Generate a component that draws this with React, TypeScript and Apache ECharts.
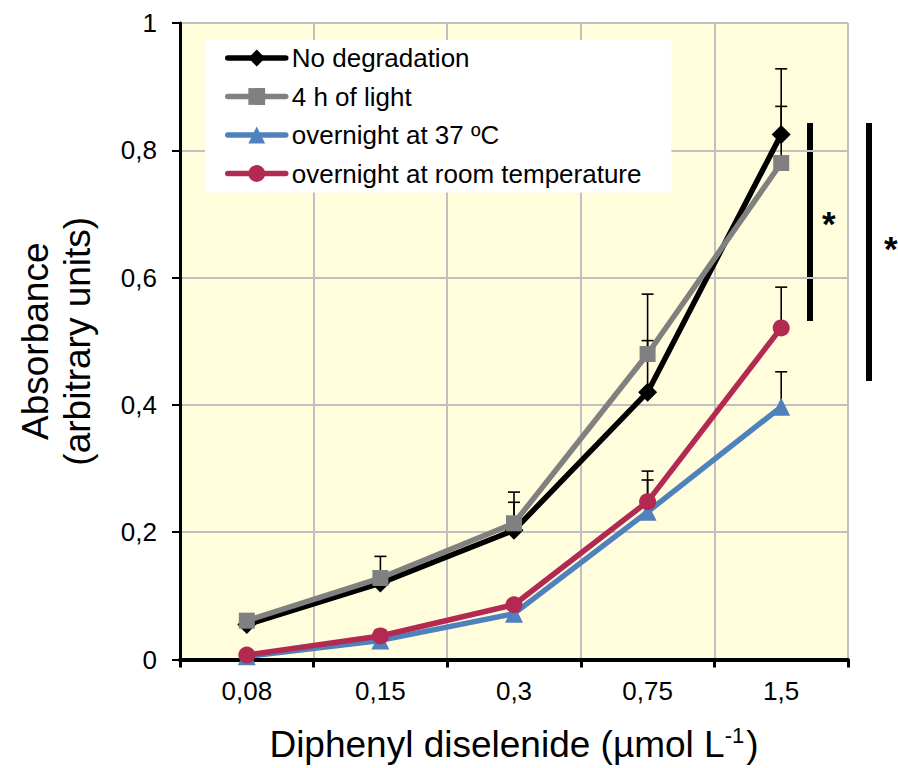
import React, { useEffect, useRef } from "react";
import * as echarts from "echarts";

const categories = ["0,08", "0,15", "0,3", "0,75", "1,5"];
const seriesNames = [
  "No degradation",
  "4 h of light",
  "overnight at 37 ºC",
  "overnight at room temperature",
];
const noDegradation = [0.055, 0.12, 0.203, 0.42, 0.825];
const noDegradationErr = [0.005, 0.012, 0.044, 0.081, 0.103];
const lightFourHours = [0.061, 0.128, 0.214, 0.48, 0.78];
const lightFourHoursErr = [0.005, 0.034, 0.049, 0.094, 0.089];
const overnight37 = [0.005, 0.03, 0.072, 0.232, 0.397];
const overnight37Err = [0.003, 0.008, 0.008, 0.05, 0.055];
const overnightRoom = [0.007, 0.037, 0.086, 0.248, 0.521];
const overnightRoomErr = [0.003, 0.009, 0.006, 0.048, 0.064];
const yTicks = [0, 0.2, 0.4, 0.6, 0.8, 1];

const FONT = "'Liberation Sans', Arial, sans-serif";

export default function App() {
  const ref = useRef<HTMLDivElement>(null);
  useEffect(() => {
    if (!ref.current) return;
    const chart = echarts.init(ref.current, null, { renderer: "svg" });

    const colors = ["#000000", "#808080", "#4f81bd", "#b22a52"];
    const symbols = ["diamond", "rect", "triangle", "circle"];
    const symbolSizes = [19, 16, 18, 17];
    const values = [noDegradation, lightFourHours, overnight37, overnightRoom];
    const errs = [noDegradationErr, lightFourHoursErr, overnight37Err, overnightRoomErr];

    const errData: number[][] = [];
    values.forEach((vals, s) => {
      vals.forEach((v, i) => {
        errData.push([i, v, v + errs[s][i]]);
      });
    });

    const lineSeries = values.map((vals, s) => ({
      name: seriesNames[s],
      type: "line",
      data: vals,
      symbol: symbols[s],
      symbolSize: symbolSizes[s],
      lineStyle: { width: 5.5, color: colors[s], cap: "round", join: "round" },
      itemStyle: { color: colors[s] },
      z: 3 + s,
    }));

    const option: any = {
      animation: false,
      textStyle: { fontFamily: FONT },
      grid: { left: 180, right: 50, top: 23, bottom: 107, backgroundColor: "#fffddb", show: true, borderWidth: 0 },
      legend: {
        orient: "vertical",
        left: 205,
        top: 40,
        backgroundColor: "#ffffff",
        padding: [5, 30, 6, 20],
        itemWidth: 58,
        itemHeight: 21,
        itemGap: 12.5,
        data: seriesNames,
        lineStyle: { width: 5.5, cap: "round" },
        textStyle: { fontSize: 26, lineHeight: 26, color: "#000", fontFamily: FONT, padding: [0, 0, 0, 1] },
      },
      xAxis: {
        type: "category",
        data: categories,
        boundaryGap: true,
        axisLine: { lineStyle: { color: "#000", width: 4 } },
        axisTick: { show: true, length: 8, lineStyle: { color: "#000", width: 3 } },
        axisLabel: { fontSize: 26, color: "#000", margin: 18, fontFamily: FONT },
        splitLine: { show: true, lineStyle: { color: "#c0c0c0", width: 2 } },
        name: "Diphenyl diselenide (µmol L{sup|-1})",
        nameLocation: "middle",
        nameGap: 65,
        nameTextStyle: {
          fontSize: 37,
          color: "#000",
          fontFamily: FONT,
          rich: { sup: { fontSize: 22, verticalAlign: "top", padding: [0, 2, 18, 0], color: "#000", fontFamily: FONT } },
        },
      },
      yAxis: {
        type: "value",
        min: 0,
        max: 1,
        interval: 0.2,
        axisLine: { show: true, lineStyle: { color: "#000", width: 3 } },
        axisTick: { show: true, length: 8, lineStyle: { color: "#000", width: 2 } },
        axisLabel: {
          fontSize: 26,
          color: "#000",
          margin: 23,
          fontFamily: FONT,
          formatter: (v: number) => {
            const t = yTicks.find((x) => Math.abs(x - v) < 1e-6);
            return String(t ?? Number(v.toFixed(1))).replace(".", ",");
          },
        },
        splitLine: { show: true, lineStyle: { color: "#c0c0c0", width: 2 } },
        name: "Absorbance\n(arbitrary units)",
        nameLocation: "middle",
        nameRotate: 90,
        nameGap: 82,
        nameTextStyle: { fontSize: 37, color: "#000", fontFamily: FONT, lineHeight: 42 },
      },
      series: [
        {
          type: "custom",
          name: "errors",
          z: 2,
          silent: true,
          data: errData,
          renderItem: (params: any, api: any) => {
            const i = api.value(0);
            const p0 = api.coord([i, api.value(1)]);
            const p1 = api.coord([i, api.value(2)]);
            const style = { stroke: "#000", lineWidth: 1.6 };
            return {
              type: "group",
              children: [
                { type: "line", shape: { x1: p0[0], y1: p0[1], x2: p1[0], y2: p1[1] }, style },
                { type: "line", shape: { x1: p1[0] - 6, y1: p1[1], x2: p1[0] + 6, y2: p1[1] }, style },
              ],
            };
          },
        },
        ...lineSeries,
      ],
      graphic: [
        { type: "rect", shape: { x: 807, y: 123, width: 6, height: 198 }, style: { fill: "#000" } },
        { type: "text", x: 822, y: 206, style: { text: "*", fontSize: 35, fontWeight: "bold", fill: "#000", fontFamily: FONT } },
        { type: "rect", shape: { x: 866, y: 123, width: 6, height: 258 }, style: { fill: "#000" } },
        { type: "text", x: 884, y: 231, style: { text: "*", fontSize: 35, fontWeight: "bold", fill: "#000", fontFamily: FONT } },
      ],
    };
    chart.setOption(option);
    return () => chart.dispose();
  }, []);
  return (
    <div
      ref={ref}
      style={{ position: "fixed", left: 0, top: 0, width: 898, height: 768, background: "#fff" }}
    />
  );
}
